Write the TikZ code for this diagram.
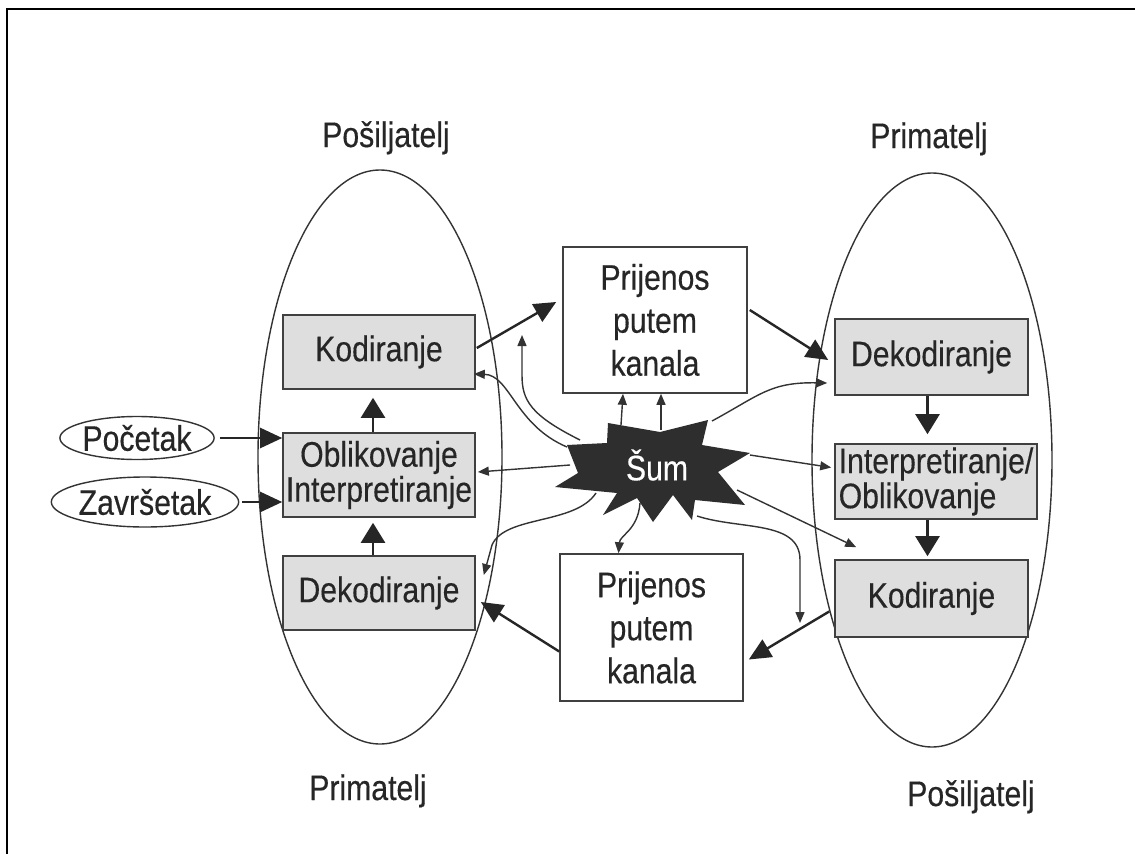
\documentclass[tikz,border=0pt]{standalone}
\usepackage{fontspec}
\setmainfont{Liberation Sans}[FakeStretch=0.85,FakeBold=0.35]
\usetikzlibrary{arrows.meta,calc,shapes.geometric}
\begin{document}
\begin{tikzpicture}[x=1pt,y=-1pt,
  lbl/.style={font=\fontsize{35.5}{35}\selectfont, inner sep=0pt, text=black!85},
  gbox/.style={draw=black!75, line width=1.6pt, fill=black!13, inner sep=0pt, align=center, text=black!85, font=\fontsize{35.5}{35}\selectfont},
  wbox/.style={draw=black!75, line width=1.6pt, fill=white, inner sep=0pt, align=center, text=black!85, font=\fontsize{35.5}{43}\selectfont},
  oval/.style={draw=black!80, line width=1.4pt, ellipse, inner sep=0pt, text=black!85, font=\fontsize{35.5}{35}\selectfont},
  bigoval/.style={draw=black!80, line width=1.4pt, ellipse, inner sep=0pt},
  big/.style={line width=2.4pt, draw=black!85, -{Triangle[length=22pt,width=20pt]}},
  vbig/.style={line width=2.4pt, draw=black!85, -{Triangle[length=20pt,width=24pt]}},
  noise/.style={line width=1.4pt, draw=black!80, -{Triangle[length=11pt,width=9pt]}},
]
\useasboundingbox (0,0) rectangle (1135,854);
\fill[white] (0,0) rectangle (1135,854);
\draw[line width=2pt] (6.5,854) -- (6.5,8.5) -- (1135,8.5);

% big ellipses
\node[bigoval, minimum width=244pt, minimum height=574pt] (ellL) at (380,457) {};
\node[bigoval, minimum width=240pt, minimum height=574pt] (ellR) at (932,460) {};

% labels
\node[lbl, anchor=base] (sendL) at (386,147) {Pošiljatelj};
\node[lbl, anchor=base] (recvR) at (929,148) {Primatelj};
\node[lbl, anchor=base] (recvL) at (368,800) {Primatelj};
\node[lbl, anchor=base] (sendR) at (971,806) {Pošiljatelj};

% boxes
\node[gbox, minimum width=192pt, minimum height=74pt] (kodL) at (379,352) {Kodiranje};
\node[gbox, minimum width=192pt, minimum height=84pt] (oblL) at (379,475) {Oblikovanje\\Interpretiranje};
\node[gbox, minimum width=192pt, minimum height=74pt] (dekL) at (379,593) {Dekodiranje};
\node[gbox, minimum width=193pt, minimum height=76pt] (dekR) at (931.5,357) {Dekodiranje};
\node[gbox, minimum width=202pt, minimum height=75pt, align=left] (intR) at (936,481.5) {Interpretiranje/\\Oblikovanje};
\node[gbox, minimum width=193pt, minimum height=77pt] (kodR) at (931.5,598.5) {Kodiranje};
\node[wbox, minimum width=184pt, minimum height=146pt] (chan1) at (655,320) {Prijenos\\putem\\kanala};
\node[wbox, minimum width=183pt, minimum height=147pt] (chan2) at (651.5,627.5) {Prijenos\\putem\\kanala};

% start / end
\node[oval, minimum width=137pt, minimum height=43pt] (poc) at (137,438) {Početak};
\node[oval, minimum width=155pt, minimum height=50pt] (zav) at (145,502) {Završetak};

% noise star
\fill[black!82] (608,423) -- (660,432) -- (708,420) -- (702,445) -- (750,453) -- (718,472)
  -- (745,505) -- (695,500) -- (692,520) -- (673,495) -- (653,522) -- (637,498)
  -- (603,515) -- (617,493) -- (555,487) -- (578,473) -- (567,445) -- (607,443) -- cycle;
\node[lbl, text=white] (sum) at (657,465) {Šum};

% main flow
\draw[big, shorten <=5pt] (poc.east) -- (oblL.west |- poc.east);
\draw[big, shorten <=3pt] (zav.east) -- (oblL.west |- zav.east);
\draw[vbig, shorten >=5pt] ([xshift=-6pt]dekL.north) -- ([xshift=-6pt]oblL.south);
\draw[vbig, shorten >=8pt] ([xshift=-6pt]oblL.north) -- ([xshift=-6pt]kodL.south);
\draw[big] ($(kodL.east)+(1,-4)$) -- ($(chan1.west)+(-6,-18)$);
\draw[big] ($(chan1.east)+(2,-10)$) -- ($(dekR.west)+(-6,3)$);
\draw[vbig, shorten >=9pt] ([xshift=-4pt]dekR.south) -- ([xshift=-4pt]dekR.south |- intR.north);
\draw[vbig, shorten >=3pt] ([xshift=-4pt]dekR.south |- intR.south) -- ([xshift=-4pt]dekR.south |- kodR.north);
\draw[big] ($(kodR.west)+(-5,13)$) -- ($(chan2.east)+(5,32)$);
\draw[big] ($(chan2.west)+(0,24)$) -- ($(dekL.east)+(5,9)$);

% noise arrows
\coordinate (nb) at (522,335);
\coordinate (ng) at (800,623);
\draw[noise] ($(sum)+(-90,-18)$) .. controls (515,425) and (510,375) .. ($(kodL.east)+(-2,22)$);
\draw[noise] ($(sum)+(-77,-25)$) .. controls (530,415) and (522,400) .. (522,375) -- (nb);
\draw[noise] ($(sum)+(-36,-40)$) -- ($(chan1.south)+(-32,0)$);
\draw[noise] ($(sum)+(4,-35)$) -- ($(chan1.south)+(6,0)$);
\draw[noise] ($(sum)+(55,-44)$) .. controls (760,395) and (770,382) .. ($(dekR.west)+(-7,26)$);
\draw[noise] ($(sum)+(93,-10)$) -- ($(intR.west)+(-3,-14)$);
\draw[noise] ($(sum)+(80,25)$) -- ($(kodR.north west)+(22,-12)$);
\draw[noise] ($(sum)+(40,51)$) .. controls (740,530) and (800,520) .. (800,560) -- (ng);
\draw[noise] ($(sum)+(-17,38)$) .. controls (638,530) and (620,535) .. ($(chan2.north)+(-33,0)$);
\draw[noise] ($(sum)+(-87,0)$) -- ($(oblL.east)+(2,-3)$);
\draw[noise] ($(sum)+(-61,28)$) .. controls (575,525) and (505,515) .. (492,545) -- ($(dekL.east)+(8,-18)$);
\end{tikzpicture}
\end{document}
